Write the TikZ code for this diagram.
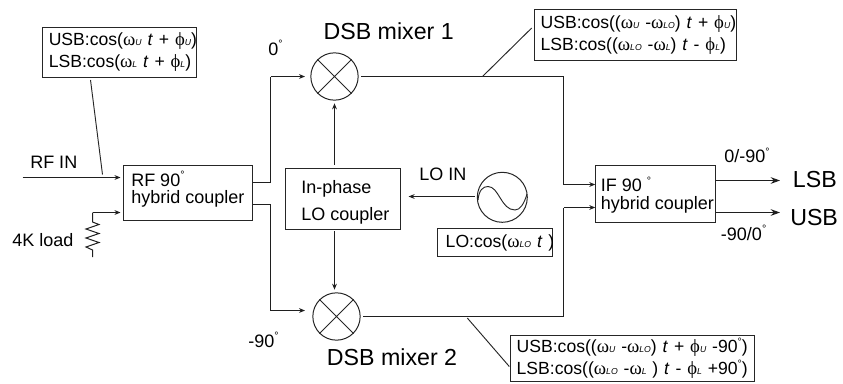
\documentclass[tikz,border=0pt]{standalone}
\usepackage{fontspec}
\setmainfont{Liberation Sans}
\newfontfamily\symf{Liberation Serif}
\usetikzlibrary{arrows.meta,shapes.geometric,calc}
\newcommand{\txtf}{\fontsize{13.5}{16.5}\selectfont}
\newcommand{\boxf}{\fontsize{13.2}{16.5}\selectfont\spaceskip=0.2em\relax}
\newcommand{\bigf}{\fontsize{17.4}{20}\selectfont}
\newcommand{\omg}[1]{{\symf\fontsize{14}{14}\selectfont ω}{\fontsize{6.5}{6.5}\selectfont\itshape #1}}
\newcommand{\phs}[1]{{\symf\fontsize{14}{14}\selectfont ϕ}{\fontsize{6.5}{6.5}\selectfont\itshape #1}}
\newcommand{\dgr}{\raisebox{0.42em}{\fontsize{8}{8}\selectfont °}}
\newcommand{\tvar}{\textit{t}}
\newcommand{\bline}[2]{\hspace*{#1}\rlap{#2}}
\tikzset{
  x=0.75pt,y=-0.75pt,
  wire/.style={line width=0.75pt,draw=black!88},
  thinwire/.style={line width=0.7pt,draw=black!85},
  arr/.style={wire,-{Stealth[length=4.5pt,width=3.6pt]}},
  bigarr/.style={wire,-{Stealth[length=7pt,width=5pt]}},
  box/.style={draw=black!85,line width=0.75pt,fill=white,inner xsep=0pt,inner ysep=0pt,align=left,font=\boxf},
  mixer/.style={circle,draw=black!85,line width=0.75pt,minimum size=35.5pt,inner sep=0pt},
  lbl/.style={anchor=base west,inner sep=0pt,font=\txtf},
  biglbl/.style={anchor=base west,inner sep=0pt,font=\bigf},
}
\begin{document}
\begin{tikzpicture}
\useasboundingbox (0,0) rectangle (843,383);
% boxes
\node[box,minimum width=115.5pt,minimum height=37pt,text width=115.5pt] (rfsig) at (119.25,52.5) {\bline{4.9pt}{USB:cos(\omg{U} \tvar{} + \phs{U})}\\\bline{4.9pt}{LSB:cos(\omg{L} \tvar{} + \phs{L})}};
\node[box,minimum width=96.75pt,minimum height=41.6pt] (rf) at (187.5,193.25) {};
\node[box,minimum width=86pt,minimum height=46pt] (lo) at (342.75,198.75) {};
\node[box,minimum width=90.2pt,minimum height=42.7pt] (ifb) at (655.85,194.2) {};
\node[box,minimum width=86.5pt,minimum height=21.5pt,text width=86.5pt] (losig) at (495,242.6) {\bline{6.3pt}{LO:cos(\omg{LO} \tvar{} )}};
\node[box,minimum width=152pt,minimum height=38.2pt,text width=152pt] (ifsig1) at (635.6,35.2) {\bline{4.8pt}{USB:cos((\omg{U} -\omg{LO}) \tvar{} + \phs{U})}\\\bline{4.8pt}{LSB:cos((\omg{LO} -\omg{L}) \tvar{} - \phs{L})}};
\node[box,minimum width=183.2pt,minimum height=34.2pt,text width=183.2pt] (ifsig2) at (632.8,358.3) {\bline{4.5pt}{USB:cos((\omg{U} -\omg{LO}) \tvar{} + \phs{U} -90\dgr)}\\\bline{4.5pt}{LSB:cos((\omg{LO} -\omg{L} ) \tvar{} - \phs{L} +90\dgr)}};
% text inside plain boxes
\node[lbl] (t1) at (131,186) {RF 90\dgr};
\node[lbl] (t2) at (131,203.5) {hybrid coupler};
\node[lbl] (t3) at (301,193) {In-phase};
\node[lbl] (t4) at (301,220) {LO coupler};
\node[lbl] (t5) at (600.5,191.7) {IF 90 \dgr};
\node[lbl] (t6) at (600.5,209.3) {hybrid coupler};
% mixers and oscillator
\node[mixer] (m1) at (334.5,76.5) {};
\node[mixer] (m2) at (336.5,316.5) {};
\node[mixer,minimum size=37.5pt] (osc) at (502.3,197.3) {};
\draw[thinwire] (m1.45) -- (m1.225) (m1.135) -- (m1.315);
\draw[thinwire] (m2.45) -- (m2.225) (m2.135) -- (m2.315);
\draw[thinwire] (478,200) .. controls (479,190) and (483,186.5) .. (488,186.5) .. controls (499,186.5) and (501,210) .. (515,210) .. controls (520,210) and (524,204) .. (527,194);
% labels
\node[lbl] (rfin) at (30,168) {RF IN};
\node[lbl] (load) at (12,246) {4K load};
\node[lbl] (deg0) at (268,55) {0\dgr};
\node[lbl] (deg90) at (248,347) {-90\dgr};
\node[lbl] (loin) at (419,180) {LO IN};
\node[lbl] (ph1) at (724,162.7) {0/-90\dgr};
\node[lbl] (ph2) at (720.7,240) {-90/0\dgr};
\node[biglbl] (mx1) at (323.3,39) {DSB mixer 1};
\node[biglbl] (mx2) at (326.7,365.7) {DSB mixer 2};
\node[biglbl] (lsb) at (792.7,187.3) {LSB};
\node[biglbl] (usb) at (790,225) {USB};
% free ends
\coordinate (rfstart) at (22.7,177.5);
\coordinate (rest) at (92.5,212.5);
\coordinate (resb) at (92.5,257);
\coordinate (a1) at (102.5,174.5);
\coordinate (b1) at (482.3,76.7);
\coordinate (b2) at (467.3,318);
% connectors
\draw[arr,shorten >=1.5pt] (rfstart) -- (rfstart -| rf.west);
\draw[arr,shorten >=1.5pt] (rest) -- (rest -| rf.west);
\draw[wire] (rest) -- (92.5,222) -- (99,224.5) -- (86,229) -- (99,233.5) -- (86,238) -- (99,242.5) -- (86,247) -- (92.5,250) -- (resb);
\draw[thinwire] (90.5,80) -- (a1);
\draw[wire] (253,182.5) -- (270.5,182.5) -- (270.5,76.5);
\draw[arr,shorten >=4pt] (270.5,76.5) -- (m1.west);
\draw[wire] (253,204.5) -- (270.5,204.5) -- (270.5,310.5);
\draw[arr] (270.5,310.5) -- (305,310.5);
\draw[arr,shorten <=2pt,shorten >=2pt] (lo.north -| m1) -- (m1.south);
\draw[arr,shorten <=1pt,shorten >=2pt] (m1 |- lo.south) -- (m1 |- m2.north);
\draw[arr,shorten <=1.5pt,shorten >=6pt] (osc.west |- 0,196.5) -- (lo.east |- 0,196.5);
\draw[wire,shorten <=2pt] (m1.east) -- (563.5,76.5) -- (563.5,184.5);
\draw[arr] (563.5,184.5) -- (ifb.west |- 0,184.5);
\draw[wire,shorten <=2pt] (m2.east) -- (563.5,316.5) -- (563.5,207.5);
\draw[arr] (563.5,207.5) -- (ifb.west |- 0,207.5);
\draw[bigarr] (ifb.east |- 0,180.5) -- (780,180.5);
\draw[bigarr] (ifb.east |- 0,212.5) -- (780,212.5);
\draw[thinwire] (b1) -- (531.7,28);
\draw[thinwire] (b2) -- (509.3,366.5);
\end{tikzpicture}
\end{document}
